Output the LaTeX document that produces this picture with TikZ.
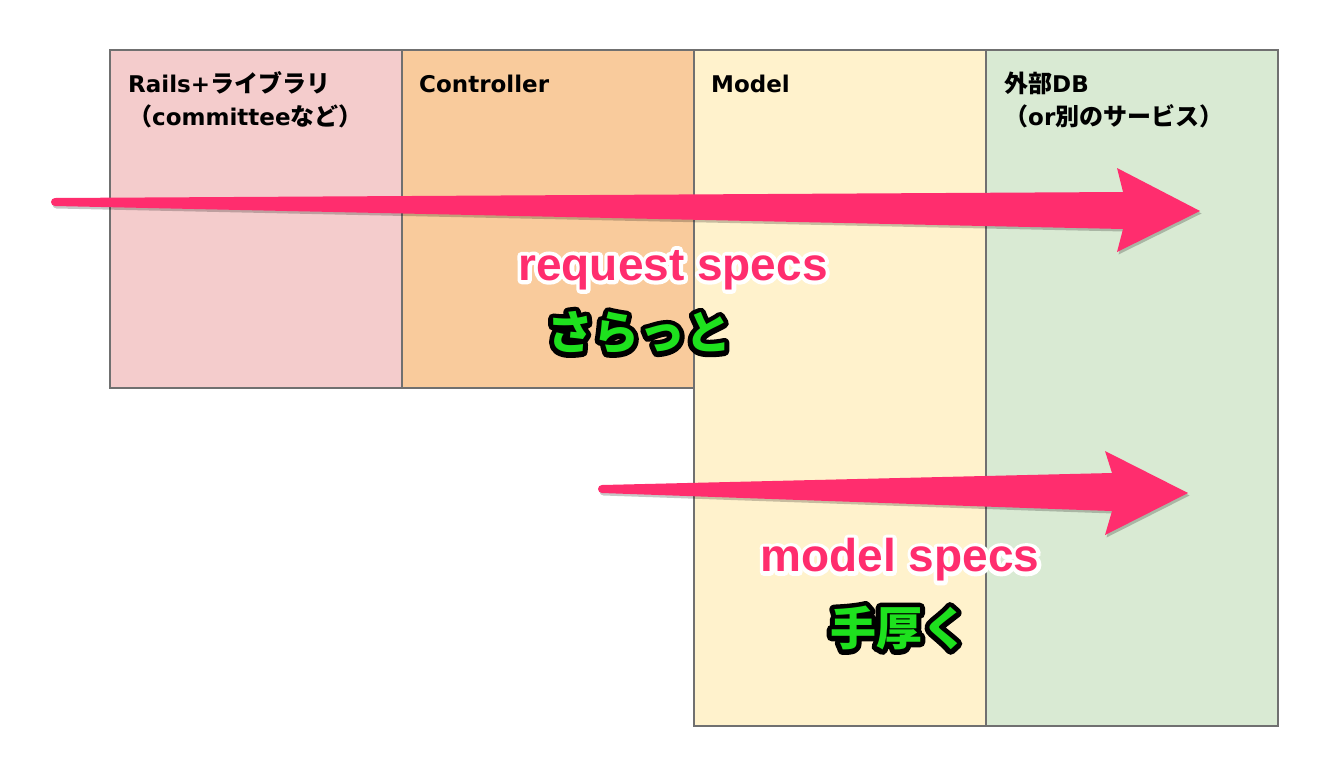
\documentclass[tikz,border=0pt]{standalone}
\usepackage{fontspec}
\setmainfont{DejaVu Sans}
\newfontfamily\specfont{Liberation Sans}
\newfontfamily\cjk{Noto Sans CJK JP Bold}
\newfontfamily\cjkblack{Noto Sans CJK JP Black}
\definecolor{railsc}{RGB}{244,204,204}
\definecolor{ctrlc}{RGB}{249,203,156}
\definecolor{modelc}{RGB}{255,242,204}
\definecolor{dbc}{RGB}{217,234,211}
\definecolor{bordc}{RGB}{112,112,112}
\definecolor{pk}{RGB}{255,45,110}
\definecolor{gr}{RGB}{30,225,30}
% outlined text: #1 outline colour, #2 stroke width, #3 fill colour, #4 text
\newcommand\outlinedtext[4]{\leavevmode\rlap{\color{#1}\special{pdf:code 1 Tr #2 w 1 j 1 J}#4\special{pdf:code 0 Tr}}{\color{#3}#4}}
\newcommand\jpl[1]{{\cjk\fontsize{24}{28}\selectfont #1}}
\begin{document}
\begin{tikzpicture}[x=1pt,y=-1pt,
  col/.style={draw=bordc, line width=1.5pt},
  hdr/.style={anchor=base west, inner sep=0pt, font=\fontsize{23}{27}\selectfont\bfseries},
  arrowshape/.style={fill=pk},
  arrowshadow/.style={fill=black, opacity=0.22},
  spec/.style={inner sep=0pt, font=\fontsize{46}{50}\selectfont\specfont\bfseries},
  jp/.style={inner sep=0pt, font=\fontsize{46}{50}\selectfont\cjkblack}]
\useasboundingbox (0,0) rectangle (1324,782);
\fill[white] (0,0) rectangle (1324,782);
% columns
\filldraw[col, fill=railsc] (110,50) rectangle (402,388);
\filldraw[col, fill=ctrlc] (402,50) rectangle (694,388);
\filldraw[col, fill=modelc] (694,50) rectangle (986,726);
\filldraw[col, fill=dbc] (986,50) rectangle (1278,726);
% headers
\node[hdr] (h1a) at (128,92) {Rails+\jpl{ライブラリ}};
\node[hdr] (h1b) at (128,125) {\jpl{（}committee\jpl{など）}};
\node[hdr] (h2) at (419,92) {Controller};
\node[hdr] (h3) at (711,92) {Model};
\node[hdr] (h4a) at (1004,92) {\jpl{外部}DB};
\node[hdr] (h4b) at (1004,125) {\jpl{（}or\jpl{別のサービス）}};
% arrow 1
\begin{scope}[shift={(1.5,2.5)}]
\fill[arrowshadow] (55,198) -- (1123,192) -- (1117,168) -- (1200,211) -- (1117,252) -- (1123,229) -- (55,206) arc[start angle=90, end angle=270, radius=4] -- cycle;
\end{scope}
\fill[arrowshape] (55,198) -- (1123,192) -- (1117,168) -- (1200,211) -- (1117,252) -- (1123,229) -- (55,206) arc[start angle=90, end angle=270, radius=4] -- cycle;
% arrow 2
\begin{scope}[shift={(1.5,2.5)}]
\fill[arrowshadow] (602,485) -- (1112,473) -- (1105,451) -- (1188,493) -- (1105,535) -- (1112,511) -- (602,493) arc[start angle=90, end angle=270, radius=4] -- cycle;
\end{scope}
\fill[arrowshape] (602,485) -- (1112,473) -- (1105,451) -- (1188,493) -- (1105,535) -- (1112,511) -- (602,493) arc[start angle=90, end angle=270, radius=4] -- cycle;
% labels
\node[spec] (rs) at (673,270) {\outlinedtext{white}{8}{pk}{request specs}};
\node[spec] (ms) at (900,560) {\outlinedtext{white}{8}{pk}{model specs}};
\node[jp] (sr) at (639,333) {\outlinedtext{black}{10}{gr}{さらっと}};
\node[jp] (ta) at (899,628) {\outlinedtext{black}{10}{gr}{手厚く}};
\end{tikzpicture}
\end{document}
